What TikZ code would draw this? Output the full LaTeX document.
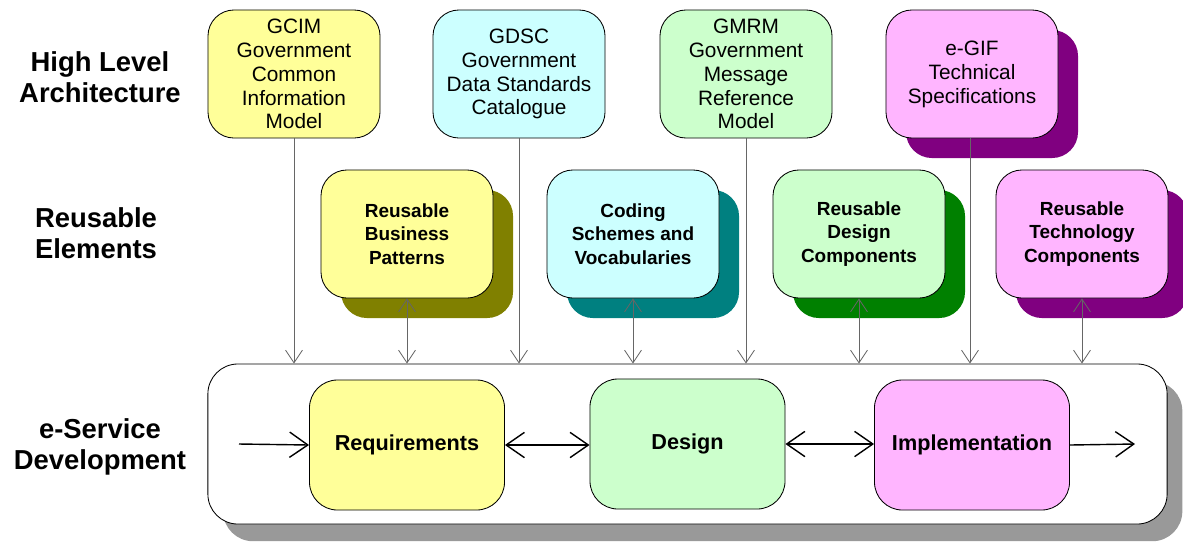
\documentclass[tikz,border=0pt]{standalone}
\usepackage{fontspec}
\setmainfont{Liberation Sans}
\usepackage{tikz}
\usetikzlibrary{arrows.meta,shadows}
\definecolor{paleyellow}{HTML}{FFFF99}
\definecolor{palecyan}{HTML}{CCFFFF}
\definecolor{palegreen}{HTML}{CCFFCC}
\definecolor{palepink}{HTML}{FFB5FF}
\definecolor{shadeolive}{HTML}{808000}
\definecolor{shadeteal}{HTML}{008080}
\definecolor{shadegreen}{HTML}{008000}
\definecolor{shadepurple}{HTML}{800080}
\definecolor{shadegray}{HTML}{999999}
\tikzset{
  archbox/.style={draw=black, line width=0.6pt, rounded corners=0.65cm, inner sep=0pt,
    minimum width=4.3cm, minimum height=3.2cm, align=center,
    font=\fontsize{14.8}{17}\selectfont},
  reusebox/.style={draw=black, line width=0.6pt, rounded corners=0.65cm, inner sep=0pt,
    minimum width=4.3cm, minimum height=3.2cm, align=center,
    font=\bfseries\fontsize{13.5}{16.7}\selectfont},
  stagebox/.style={draw=black, line width=0.6pt, rounded corners=0.7cm, inner sep=0pt,
    minimum width=4.875cm, minimum height=3.25cm, align=center,
    font=\bfseries\fontsize{15.4}{18}\selectfont},
  rowlabel/.style={align=center, font=\bfseries\fontsize{19.5}{22}\selectfont},
  backshadow/.style={drop shadow={shadow xshift=0.5cm, shadow yshift=-0.5cm, fill=#1, opacity=1}},
  feed/.style={draw=black!60, line width=0.6pt, -{Straight Barb[length=9pt,width=12pt]}},
  link/.style={draw=black!60, line width=0.6pt, {Straight Barb[length=9pt,width=12pt]}-{Straight Barb[length=9pt,width=12pt]}},
  flow/.style={draw=black, line width=1pt, -{Straight Barb[length=13pt,width=18pt]}},
  twoway/.style={draw=black, line width=1pt, {Straight Barb[length=13pt,width=18pt]}-{Straight Barb[length=13pt,width=18pt]}}
}
\begin{document}
\begin{tikzpicture}[x=0.025cm,y=-0.025cm]
\useasboundingbox (0,0) rectangle (1183,542);

% row labels
\node[rowlabel] (lhigh) at (100,77) {High Level\\Architecture};
\node[rowlabel] (lreuse) at (96,233) {Reusable\\Elements};
\node[rowlabel] (lserv) at (100,447) {e-Service\\Development};

% development frame
\node[draw=black, line width=0.6pt, fill=white, rounded corners=0.75cm, inner sep=0pt,
  minimum width=23.975cm, minimum height=4cm,
  drop shadow={shadow xshift=0.38cm, shadow yshift=-0.43cm, fill=shadegray, opacity=1}]
  (dev) at (687.5,444) {};

\node[stagebox, fill=paleyellow] (req) at (407,445) {Requirements};
\node[stagebox, fill=palegreen] (des) at (687.5,444) {Design};
\node[stagebox, fill=palepink] (imp) at (972,445) {Implementation};

% high level architecture
\node[archbox, fill=paleyellow] (gcim) at (294,74) {GCIM\\Government\\Common\\Information\\Model};
\node[archbox, fill=palecyan] (gdsc) at (519,74) {GDSC\\Government\\Data Standards\\Catalogue};
\node[archbox, fill=palegreen] (gmrm) at (746,74) {GMRM\\Government\\Message\\Reference\\Model};
\node[archbox, fill=palepink, backshadow=shadepurple] (egif) at (972,74) {e-GIF\\Technical\\Specifications};

% reusable elements
\node[reusebox, fill=paleyellow, backshadow=shadeolive] (rbp) at (407,234) {Reusable\\Business\\Patterns};
\node[reusebox, fill=palecyan, backshadow=shadeteal] (csv) at (633,234) {Coding\\Schemes and\\Vocabularies};
\node[reusebox, fill=palegreen, backshadow=shadegreen] (rdc) at (859,234) {Reusable\\Design\\Components};
\node[reusebox, fill=palepink, backshadow=shadepurple] (rtc) at (1082,234) {Reusable\\Technology\\Components};

% connectors
\draw[feed] (gcim.south) -- (gcim.south |- dev.north);
\draw[feed] (gdsc.south) -- (gdsc.south |- dev.north);
\draw[feed] (gmrm.south) -- (gmrm.south |- dev.north);
\draw[feed] ([xshift=-0.05cm]egif.south) -- ([xshift=-0.05cm]egif.south |- dev.north);
\draw[link] (rbp.south) -- (rbp.south |- dev.north);
\draw[link] (csv.south) -- (csv.south |- dev.north);
\draw[link] (rdc.south) -- (rdc.south |- dev.north);
\draw[link] (rtc.south) -- (rtc.south |- dev.north);

\coordinate (start) at (239,444);
\coordinate (finish) at (1135,444);
\draw[flow] (start) -- (req.west);
\draw[twoway] (req.east) -- (req.east -| des.west);
\draw[twoway] (des.east) -- (des.east -| imp.west);
\draw[flow] (imp.east) -- (finish);
\end{tikzpicture}
\end{document}
